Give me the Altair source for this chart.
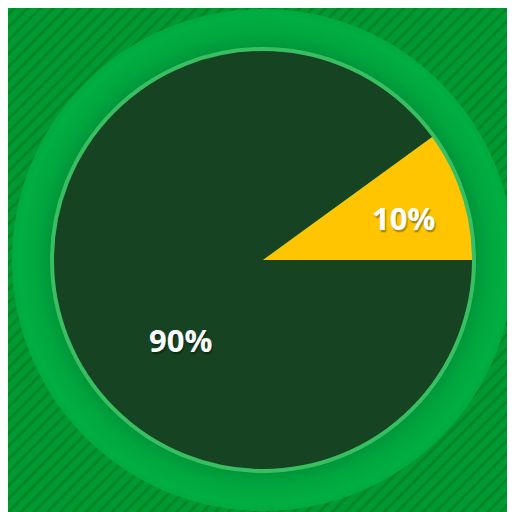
import math
import altair as alt
import pandas as pd

# ---- data ----
labels = ["90%", "10%"]
values = [90, 10]
slice_colors = ["#164322", "#ffc500"]

W, H = 499, 504
CX, CY = 255, 252

df = pd.DataFrame({"label": labels, "value": values})
dummy = pd.DataFrame({"d": [0]})

# ---- striped background gradient ----
base, dark = "#009b30", "#00862a"
N = 77
stops = []
for i in range(N):
    t0 = i / N
    p = 1 / N
    stops += [
        {"offset": round(t0, 5), "color": base},
        {"offset": round(t0 + 0.25 * p, 5), "color": base},
        {"offset": round(t0 + 0.45 * p, 5), "color": dark},
        {"offset": round(t0 + 0.58 * p, 5), "color": dark},
        {"offset": round(t0 + 0.80 * p, 5), "color": base},
    ]
stops.append({"offset": 1, "color": base})

bg = alt.Chart(dummy).mark_rect(
    fill={"gradient": "linear", "x1": 0, "y1": 0, "x2": 1, "y2": 1, "stops": stops}
).encode(x=alt.value(0), x2=alt.value(W), y=alt.value(0), y2=alt.value(H))

radial = {
    "gradient": "radial", "x1": 0.5, "y1": 0.5, "x2": 0.5, "y2": 0.5,
    "r1": 0, "r2": 0.5,
    "stops": [
        {"offset": 0, "color": "#009a38"},
        {"offset": 0.84, "color": "#00943a"},
        {"offset": 0.9, "color": "#00a63e"},
        {"offset": 0.97, "color": "#00ae41"},
        {"offset": 1, "color": "#00aa3f"},
    ],
}
outer = alt.Chart(dummy).mark_arc(
    theta=0, theta2=2 * math.pi, radius=251, fill=radial
).encode(x=alt.value(CX), y=alt.value(CY))

pie = alt.Chart(df).mark_arc(radius=210).encode(
    theta=alt.Theta("value:Q", stack=True,
                    scale=alt.Scale(domain=[0, 100], range=[math.pi / 2, 5 * math.pi / 2])),
    color=alt.Color("label:N", scale=alt.Scale(domain=labels, range=slice_colors), legend=None),
    order=alt.Order("value:Q", sort="descending"),
    x=alt.value(CX), y=alt.value(CY),
)

ring = alt.Chart(dummy).mark_arc(
    theta=0, theta2=2 * math.pi, radius=211, fillOpacity=0,
    stroke="#38bf62", strokeWidth=4,
).encode(x=alt.value(CX), y=alt.value(CY))

txt_base = alt.Chart(df).transform_window(
    cum="sum(value)", sort=[alt.SortField("value", order="descending")]
).transform_calculate(mid="datum.cum - datum.value / 2")

def label_layer(name, radius, dx, dy):
    common = dict(font="Open Sans", fontSize=31, fontWeight="bold",
                  align="center", baseline="middle", radius=radius)
    enc = dict(theta=alt.Theta("mid:Q", stack=None), text="label:N",
               x=alt.value(CX), y=alt.value(CY))
    b = txt_base.transform_filter(alt.datum.label == name)
    shadow = b.mark_text(fill="#000000", opacity=0.3, stroke="#000000",
                         strokeWidth=2, strokeOpacity=0.25,
                         dx=dx + 1, dy=dy + 2, **common).encode(**enc)
    front = b.mark_text(fill="#ffffff", dx=dx, dy=dy, **common).encode(**enc)
    return shadow + front

lab10 = label_layer("10%", 148, 0, 7)
lab90 = label_layer("90%", 115, 27, 47)

chart = alt.layer(bg, outer, pie, ring, lab10, lab90).properties(
    width=W, height=H, padding=0,
    autosize=alt.AutoSizeParams(type="none"),
).configure_view(stroke=None)

chart.save("out.html", embed_options={"renderer": "svg", "actions": False})
